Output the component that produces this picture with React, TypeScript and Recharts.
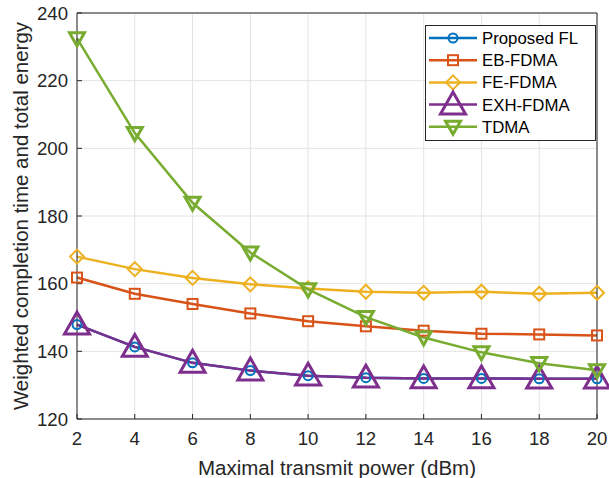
import React from 'react';
import { LineChart, Line, XAxis, YAxis, CartesianGrid } from 'recharts';

// Maximal transmit power (dBm)
const power = [2, 4, 6, 8, 10, 12, 14, 16, 18, 20];

// Weighted completion time and total energy per scheme
const proposedFL = [147.9, 141.3, 136.6, 134.3, 132.8, 132.2, 132.0, 132.0, 131.9, 131.9];
const ebFDMA = [161.8, 157.0, 154.0, 151.2, 148.9, 147.4, 146.1, 145.2, 145.0, 144.7];
const feFDMA = [168.0, 164.3, 161.7, 159.8, 158.6, 157.6, 157.3, 157.6, 157.0, 157.3];
const exhFDMA = [147.9, 141.3, 136.6, 134.3, 132.8, 132.2, 132.0, 132.0, 131.9, 131.9];
const tdma = [232.5, 204.5, 183.9, 169.2, 158.3, 150.1, 144.1, 139.7, 136.5, 134.4];

const xTicks = [2, 4, 6, 8, 10, 12, 14, 16, 18, 20];
const yTicks = [120, 140, 160, 180, 200, 220, 240];

const data = power.map((p, i) => ({
  power: p,
  proposed: proposedFL[i],
  eb: ebFDMA[i],
  fe: feFDMA[i],
  exh: exhFDMA[i],
  tdma: tdma[i],
}));

type MarkerKind = 'circle' | 'square' | 'diamond' | 'triangle' | 'down';

const series: { key: string; name: string; color: string; marker: MarkerKind }[] = [
  { key: 'proposed', name: 'Proposed FL', color: '#0072BD', marker: 'circle' },
  { key: 'eb', name: 'EB-FDMA', color: '#D95319', marker: 'square' },
  { key: 'fe', name: 'FE-FDMA', color: '#EDB120', marker: 'diamond' },
  { key: 'exh', name: 'EXH-FDMA', color: '#7E2F8E', marker: 'triangle' },
  { key: 'tdma', name: 'TDMA', color: '#77AC30', marker: 'down' },
];

const FONT = 'Liberation Sans, Arial, Helvetica, sans-serif';
const AXIS = '#262626';
const TICK_FS = 18.6;
const LABEL_FS = 20.5;
const LEGEND_FS = 16.8;

function Marker({ cx, cy, kind, color }: { cx: number; cy: number; kind: MarkerKind; color: string }) {
  const sw = 2;
  switch (kind) {
    case 'circle':
      return <circle cx={cx} cy={cy} r={4.5} fill="none" stroke={color} strokeWidth={sw} />;
    case 'square':
      return <rect x={cx - 5} y={cy - 5} width={10} height={10} fill="none" stroke={color} strokeWidth={sw} />;
    case 'diamond': {
      const r = 7;
      return (
        <polygon
          points={`${cx},${cy - r} ${cx + r},${cy} ${cx},${cy + r} ${cx - r},${cy}`}
          fill="none"
          stroke={color}
          strokeWidth={sw}
        />
      );
    }
    case 'triangle': {
      const h = 12.5;
      return (
        <polygon
          points={`${cx},${cy - h} ${cx + h},${cy + h * 0.75} ${cx - h},${cy + h * 0.75}`}
          fill="none"
          stroke={color}
          strokeWidth={3}
        />
      );
    }
    case 'down': {
      const h = 7.5;
      return (
        <polygon
          points={`${cx - h},${cy - h * 0.75} ${cx + h},${cy - h * 0.75} ${cx},${cy + h}`}
          fill="none"
          stroke={color}
          strokeWidth={3}
        />
      );
    }
  }
  return null;
}

const makeDot = (kind: MarkerKind, color: string) => (props: any) => {
  const { cx, cy, index } = props;
  if (cx == null || cy == null) return <g key={`d-${kind}-${index}`} />;
  return (
    <g key={`d-${kind}-${index}`}>
      <Marker cx={cx} cy={cy} kind={kind} color={color} />
    </g>
  );
};

function LegendBox() {
  const rowH = 22.2;
  const w = 171;
  const h = 116;
  return (
    <svg width={w} height={h} style={{ display: 'block' }}>
      <rect x={0.5} y={0.5} width={w - 1} height={h - 1} fill="#fff" stroke={AXIS} strokeWidth={1} />
      {series.map((s, i) => {
        const y = 13 + i * rowH;
        return (
          <g key={s.key}>
            <line x1={4} x2={52} y1={y} y2={y} stroke={s.color} strokeWidth={2.5} />
            <Marker cx={28} cy={y} kind={s.marker} color={s.color} />
            <text x={57} y={y + 6} fontSize={LEGEND_FS} fontFamily={FONT} fill="#000">
              {s.name}
            </text>
          </g>
        );
      })}
    </svg>
  );
}

export default function App() {
  return (
    <div style={{ position: 'absolute', left: 0, top: 0, width: 609, height: 478, background: '#fff' }}>
      <LineChart
        width={609}
        height={478}
        data={data}
        margin={{ top: 0, right: 0, bottom: 0, left: 0 }}
        style={{ fontFamily: FONT }}
      >
        <CartesianGrid stroke="#e3e3e3" strokeWidth={1} horizontalValues={yTicks} verticalValues={xTicks} />
        <XAxis
          dataKey="power"
          type="number"
          domain={[2, 20]}
          ticks={xTicks}
          height={59}
          stroke={AXIS}
          tickSize={-5}
          tickMargin={18}
          tick={{ fill: AXIS, fontSize: TICK_FS, fontFamily: FONT }}
          label={{
            value: 'Maximal transmit power (dBm)',
            position: 'insideBottom',
            offset: 3,
            fill: AXIS,
            fontSize: LABEL_FS,
            fontFamily: FONT,
          }}
        />
        <XAxis
          xAxisId="top"
          dataKey="power"
          type="number"
          orientation="top"
          domain={[2, 20]}
          ticks={xTicks}
          height={13}
          stroke={AXIS}
          tickSize={-5}
          tick={false}
        />
        <YAxis
          type="number"
          domain={[120, 240]}
          ticks={yTicks}
          width={77}
          stroke={AXIS}
          tickSize={-5}
          tickMargin={14}
          tick={{ fill: AXIS, fontSize: TICK_FS, fontFamily: FONT }}
          label={{
            value: 'Weighted completion time and total energy',
            angle: -90,
            position: 'center',
            dx: -17.5,
            fill: AXIS,
            fontSize: LABEL_FS,
            fontFamily: FONT,
          }}
        />
        <YAxis
          yAxisId="right"
          type="number"
          orientation="right"
          domain={[120, 240]}
          ticks={yTicks}
          width={12}
          stroke={AXIS}
          tickSize={-5}
          tick={false}
        />
        {series.map((s) => (
          <Line
            key={s.key}
            dataKey={s.key}
            name={s.name}
            stroke={s.color}
            strokeWidth={2.5}
            isAnimationActive={false}
            dot={makeDot(s.marker, s.color)}
            activeDot={false}
          />
        ))}
      </LineChart>
      <div style={{ position: 'absolute', left: 425, top: 25 }}>
        <LegendBox />
      </div>
    </div>
  );
}
